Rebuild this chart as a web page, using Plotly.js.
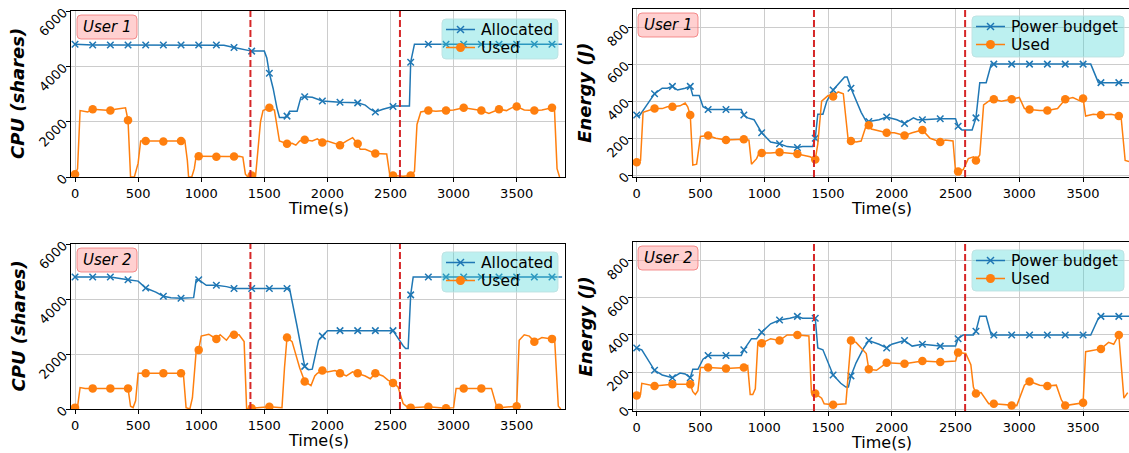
<!DOCTYPE html>
<html>
<head>
<meta charset="utf-8">
<script src="https://cdn.plot.ly/plotly-3.0.1.min.js"></script>
<style>
  html, body { margin: 0; padding: 0; background: #ffffff; }
  #chart { width: 1129px; height: 453px; }
</style>
</head>
<body>
<div id="chart"></div>
<script>
// ---- User 1, CPU shares ----
const cpu1AllocT = [0,140,280,420,560,700,840,980,1120,1180,
  1260,1340,1400,1500,1520,1540,1570,1600,1620,1660,
  1680,1700,1760,1790,1820,1880,1960,2100,2240,2300,
  2340,2380,2440,2520,2540,2650,2660,2690,2800,2940,
  3080,3220,3360,3500,3640,3780,3860];
const cpu1AllocV = [4800,4770,4770,4770,4770,4770,4770,4770,4770,4760,
  4680,4600,4550,4550,4300,3750,3200,2500,2150,2150,
  2200,2380,2380,2880,2900,2880,2750,2700,2680,2600,
  2450,2350,2450,2550,2570,2570,4150,4800,4800,4800,
  4800,4800,4800,4800,4800,4800,4800];
const cpu1UsedT = [0,20,40,100,140,200,280,320,400,420,
  440,470,500,520,560,620,700,780,840,870,
  890,900,925,945,960,980,1050,1120,1200,1260,
  1300,1330,1350,1370,1400,1430,1450,1470,1490,1540,
  1580,1600,1620,1680,1720,1750,1780,1820,1880,1920,
  1960,2000,2060,2100,2150,2200,2240,2260,2300,2380,
  2470,2495,2520,2600,2660,2690,2710,2740,2800,2860,
  2940,3000,3080,3150,3220,3280,3330,3360,3420,3460,
  3500,3560,3640,3700,3780,3800,3820,3840];
const cpu1UsedV = [100,300,2400,2350,2450,2420,2400,2450,2500,2050,
  0,0,500,1300,1300,1280,1280,1300,1300,1320,
  600,0,0,300,750,750,740,730,740,740,
  750,720,100,0,50,0,1000,2000,2400,2500,
  2420,1900,1300,1200,1220,1150,1300,1350,1300,1380,
  1250,1300,1200,1150,1300,1420,1200,1000,1000,850,
  830,50,50,30,50,200,1900,2350,2400,2380,
  2400,2420,2500,2450,2400,2300,2400,2450,2400,2500,
  2550,2420,2400,2420,2500,2400,300,0];

// ---- User 1, energy ----
const en1BudgetT = [0,20,80,140,200,240,280,320,380,420,
  440,490,520,560,700,820,840,870,920,980,
  1050,1120,1180,1260,1300,1380,1400,1420,1460,1490,
  1540,1600,1630,1650,1680,1760,1800,1820,1900,1960,
  2040,2100,2170,2200,2240,2380,2500,2520,2550,2630,
  2660,2690,2740,2780,2800,2940,3080,3220,3360,3500,
  3560,3620,3640,3780,3860];
const en1BudgetV = [325,320,380,440,470,470,480,460,470,480,
  430,430,370,355,355,355,325,310,300,230,
  180,170,155,150,155,155,200,330,330,400,
  460,510,530,530,470,340,290,290,300,315,
  300,280,310,300,300,305,305,265,245,245,
  310,500,500,600,600,600,600,600,600,600,
  600,500,500,500,500];
const en1UsedT = [0,30,50,100,140,200,240,280,340,380,
  400,420,440,470,500,560,620,700,780,840,
  880,900,940,960,980,1050,1120,1200,1260,1360,
  1400,1420,1450,1500,1540,1580,1620,1660,1680,1720,
  1760,1800,1820,1840,1900,1960,2020,2100,2160,2240,
  2300,2380,2420,2480,2500,2520,2560,2600,2640,2660,
  2690,2720,2760,2800,2860,2940,3000,3040,3080,3160,
  3220,3300,3360,3420,3480,3500,3520,3580,3640,3720,
  3780,3800,3830,3860];
const en1UsedV = [70,80,340,350,360,360,370,370,375,390,
  370,325,55,60,210,215,200,190,195,195,
  190,60,90,120,120,120,125,120,115,100,
  85,170,400,430,425,450,440,180,185,180,
  185,270,270,250,240,230,230,215,230,245,
  200,180,190,185,20,20,30,90,100,80,
  110,380,400,410,400,410,420,360,355,350,
  350,360,410,420,400,415,320,330,325,330,
  320,300,80,75];

// ---- User 2, CPU shares ----
const cpu2AllocT = [0,140,280,420,500,560,640,700,760,840,
  940,960,980,1040,1120,1200,1260,1400,1540,1680,
  1700,1760,1820,1850,1880,1930,1960,2000,2100,2240,
  2380,2520,2600,2620,2640,2660,2680,2800,2940,3080,
  3220,3360,3500,3640,3780,3860];
const cpu2AllocV = [4800,4800,4800,4700,4650,4400,4250,4100,4050,4030,
  4050,4700,4700,4500,4500,4450,4380,4380,4380,4380,
  4380,3000,1550,1430,1450,2500,2650,2850,2850,2850,
  2850,2850,2300,2200,2200,4150,4800,4800,4800,4800,
  4800,4800,4800,4800,4800,4800];
const cpu2UsedT = [0,20,40,80,140,280,420,440,460,480,
  500,560,700,840,860,880,910,930,960,980,
  1000,1060,1100,1120,1150,1200,1240,1260,1300,1340,
  1360,1400,1540,1640,1660,1680,1720,1780,1820,1870,
  1900,1920,1960,2000,2060,2100,2150,2200,2240,2300,
  2340,2380,2440,2480,2520,2560,2600,2640,2660,2800,
  2940,3000,3020,3080,3220,3300,3340,3360,3500,3520,
  3560,3600,3640,3700,3780,3800,3830,3850];
const cpu2UsedV = [50,80,780,750,750,750,750,100,50,300,
  1300,1300,1300,1300,1200,50,0,400,2100,2150,
  2650,2720,2600,2550,2700,2500,2750,2700,2700,2450,
  0,30,80,50,1500,2600,2450,1500,1000,850,
  1200,1300,1400,1350,1400,1300,1200,1350,1300,1200,
  1100,1300,1200,1050,950,800,200,50,50,80,
  30,50,750,750,750,750,100,50,100,2500,
  2700,2650,2450,2600,2550,2600,100,0];

// ---- User 2, energy ----
const en2BudgetT = [0,40,140,200,280,340,380,420,440,480,
  520,560,700,820,840,900,940,980,1050,1120,
  1200,1260,1300,1400,1420,1460,1540,1600,1640,1660,
  1680,1720,1780,1820,1900,1960,2000,2100,2160,2240,
  2380,2500,2520,2560,2640,2660,2690,2740,2780,2800,
  2940,3080,3220,3360,3500,3560,3620,3640,3780,3860];
const en2BudgetV = [330,320,210,185,170,195,190,170,215,215,
  270,290,290,290,320,380,380,415,460,480,
  490,500,490,490,330,320,185,140,120,120,
  180,250,330,370,350,330,350,370,340,350,
  340,340,380,400,400,420,500,500,400,400,
  400,400,400,400,400,400,490,500,500,500];
const en2UsedT = [0,30,40,140,280,420,440,460,480,500,
  560,700,840,870,890,910,930,950,980,1050,
  1120,1180,1260,1350,1370,1400,1450,1470,1540,1640,
  1660,1680,1720,1800,1820,1880,1960,2100,2240,2380,
  2500,2520,2580,2620,2640,2660,2700,2760,2800,2940,
  2980,3040,3080,3160,3220,3290,3330,3360,3500,3520,
  3640,3700,3740,3780,3820,3850];
const en2UsedV = [75,80,140,125,135,135,95,80,100,225,
  225,220,225,235,80,80,110,360,355,380,
  370,400,400,395,90,85,60,30,25,30,
  200,370,360,300,215,210,250,245,260,255,
  260,305,300,240,120,85,90,30,30,20,
  20,130,150,130,125,130,50,20,35,310,
  325,360,350,400,60,90];

// Phase boundaries (s), tick positions and labels
const phaseTimes = [1390, 2575];
const timeTicks = [0, 500, 1000, 1500, 2000, 2500, 3000, 3500];
const cpuTicks = [0, 2000, 4000, 6000];
const energyTicks = [0, 200, 400, 600, 800];
const markerStep = 140;

const W = 1129, H = 453;
const FONT = 'DejaVu Sans, Liberation Sans, sans-serif';
const BLUE = '#1f77b4', ORANGE = '#ff7f0e';
const px = v => v / W;
const py = v => 1 - v / H;

// panel geometry in page pixels: [left, right, top, bottom]
const panels = [
  { box: [71, 565, 11, 177], xr: [-32, 3883], yr: [0, 6000], yticks: cpuTicks,
    ytitle: 'CPU (shares)', ytx: 18, user: 'User 1', names: ['Allocated', 'Used'],
    data: [[cpu1AllocT, cpu1AllocV], [cpu1UsedT, cpu1UsedV]],
    leg: [442, 558, 19, 59], tag: [77, 137, 15, 39] },
  { box: [633, 1129, 8.5, 177], xr: [-29, 3860], yr: [-9, 900], yticks: energyTicks,
    ytitle: 'Energy (J)', ytx: 585, user: 'User 1', names: ['Power budget', 'Used'],
    data: [[en1BudgetT, en1BudgetV], [en1UsedT, en1UsedV]],
    leg: [972, 1124, 16, 57], tag: [638, 698, 13, 37] },
  { box: [71, 565, 244, 409], xr: [-32, 3883], yr: [0, 6000], yticks: cpuTicks,
    ytitle: 'CPU (shares)', ytx: 18, user: 'User 2', names: ['Allocated', 'Used'],
    data: [[cpu2AllocT, cpu2AllocV], [cpu2UsedT, cpu2UsedV]],
    leg: [442, 558, 252, 292], tag: [77, 137, 248, 272] },
  { box: [633, 1129, 242, 411], xr: [-29, 3860], yr: [-9, 900], yticks: energyTicks,
    ytitle: 'Energy (J)', ytx: 585, user: 'User 2', names: ['Power budget', 'Used'],
    data: [[en2BudgetT, en2BudgetV], [en2UsedT, en2UsedV]],
    leg: [972, 1124, 250, 291], tag: [638, 698, 246, 270] }
];

const traces = [];
const layout = {
  width: W, height: H,
  margin: { l: 0, r: 0, t: 0, b: 0 },
  paper_bgcolor: '#ffffff', plot_bgcolor: '#ffffff',
  font: { family: FONT, color: '#000000' },
  showlegend: false,
  shapes: [], annotations: []
};

const styles = [
  { line: { color: BLUE, width: 1.5 },
    marker: { symbol: 'x-thin', size: 6.5, color: BLUE, line: { color: BLUE, width: 1.5 } } },
  { line: { color: ORANGE, width: 1.5 },
    marker: { symbol: 'circle', size: 8.5, color: ORANGE, line: { width: 0 } } }
];

// rounded rectangle path in paper coordinates from pixel box
function roundRect(x0, x1, y0, y1, r) {
  const P = (x, y) => px(x) + ',' + py(y);
  return 'M' + P(x0 + r, y0) + ' L' + P(x1 - r, y0) + ' Q' + P(x1, y0) + ' ' + P(x1, y0 + r) +
    ' L' + P(x1, y1 - r) + ' Q' + P(x1, y1) + ' ' + P(x1 - r, y1) +
    ' L' + P(x0 + r, y1) + ' Q' + P(x0, y1) + ' ' + P(x0, y1 - r) +
    ' L' + P(x0, y0 + r) + ' Q' + P(x0, y0) + ' ' + P(x0 + r, y0) + ' Z';
}

panels.forEach((p, i) => {
  const k = i + 1;
  const xa = k === 1 ? 'x' : 'x' + k;
  const ya = k === 1 ? 'y' : 'y' + k;
  const [l, r, t, b] = p.box;

  layout[k === 1 ? 'xaxis' : 'xaxis' + k] = {
    domain: [px(l), px(r)], range: p.xr, anchor: ya,
    tickmode: 'array', tickvals: timeTicks, ticktext: timeTicks.map(String),
    ticks: 'outside', ticklen: 4, tickwidth: 1, tickcolor: '#000',
    showline: true, mirror: true, linecolor: '#000', linewidth: 1,
    showgrid: true, gridcolor: '#cccccc', gridwidth: 1, zeroline: false,
    tickfont: { family: FONT, size: 13, color: '#000' }
  };
  layout[k === 1 ? 'yaxis' : 'yaxis' + k] = {
    domain: [py(b), py(t)], range: p.yr, anchor: xa,
    tickmode: 'array', tickvals: p.yticks, ticktext: p.yticks.map(String),
    tickangle: -45,
    ticks: 'outside', ticklen: 4, tickwidth: 1, tickcolor: '#000',
    showline: true, mirror: true, linecolor: '#000', linewidth: 1,
    showgrid: true, gridcolor: '#cccccc', gridwidth: 1, zeroline: false,
    tickfont: { family: FONT, size: 13, color: '#000' }
  };

  p.data.forEach(([tt, vv], s) => {
    // full series as a line
    traces.push({
      type: 'scatter', mode: 'lines', x: tt, y: vv, xaxis: xa, yaxis: ya,
      line: styles[s].line, hoverinfo: 'skip'
    });
    // markers every 140 s
    const mx = [], my = [];
    tt.forEach((tv, j) => { if (tv % markerStep === 0) { mx.push(tv); my.push(vv[j]); } });
    traces.push({
      type: 'scatter', mode: 'markers', x: mx, y: my, xaxis: xa, yaxis: ya,
      marker: styles[s].marker, hoverinfo: 'skip'
    });
  });

  // phase boundaries
  phaseTimes.forEach(pt => {
    layout.shapes.push({
      type: 'line', xref: xa, yref: ya + ' domain', x0: pt, x1: pt, y0: 0, y1: 1,
      line: { color: '#d62728', width: 2, dash: '7px,3px' }
    });
  });

  // legend box
  const [lx0, lx1, ly0, ly1] = p.leg;
  layout.shapes.push({
    type: 'path', xref: 'paper', yref: 'paper', path: roundRect(lx0, lx1, ly0, ly1, 4),
    fillcolor: 'rgba(64,212,212,0.35)', line: { color: 'rgba(190,225,225,0.9)', width: 1 }
  });
  p.names.forEach((nm, s) => {
    const ry = ly0 + 10.5 + 18 * s;
    const c = s === 0 ? BLUE : ORANGE;
    const sx0 = lx0 + 4, sx1 = lx0 + 33, cx = (sx0 + sx1) / 2;
    layout.shapes.push({
      type: 'line', xref: 'paper', yref: 'paper',
      x0: px(sx0), x1: px(sx1), y0: py(ry), y1: py(ry), line: { color: c, width: 1.5 }
    });
    if (s === 0) {
      [[-3.5, -3.5, 3.5, 3.5], [-3.5, 3.5, 3.5, -3.5]].forEach(([a, bb, cc, d]) => {
        layout.shapes.push({
          type: 'line', xref: 'paper', yref: 'paper',
          x0: px(cx + a), y0: py(ry + bb), x1: px(cx + cc), y1: py(ry + d),
          line: { color: c, width: 1.5 }
        });
      });
    } else {
      layout.shapes.push({
        type: 'circle', xref: 'paper', yref: 'paper',
        x0: px(cx - 4.5), x1: px(cx + 4.5), y0: py(ry + 4.5), y1: py(ry - 4.5),
        fillcolor: c, line: { width: 0 }
      });
    }
    layout.annotations.push({
      xref: 'paper', yref: 'paper', x: px(lx0 + 37), y: py(ry + 0.5),
      xanchor: 'left', yanchor: 'middle', showarrow: false,
      text: nm, font: { family: FONT, size: 15.5, color: '#000' }
    });
  });

  // user tag
  const [ux0, ux1, uy0, uy1] = p.tag;
  layout.shapes.push({
    type: 'path', xref: 'paper', yref: 'paper', path: roundRect(ux0, ux1, uy0, uy1, 4),
    fillcolor: 'rgba(255,150,150,0.45)', line: { color: 'rgba(240,110,110,0.75)', width: 1 }
  });
  layout.annotations.push({
    xref: 'paper', yref: 'paper', x: px((ux0 + ux1) / 2), y: py((uy0 + uy1) / 2),
    xanchor: 'center', yanchor: 'middle', showarrow: false,
    text: '<i>' + p.user + '</i>',
    font: { family: FONT, size: 15, color: '#000' }
  });
  // x title
  layout.annotations.push({
    xref: 'paper', yref: 'paper', x: px((l + r) / 2), y: py(b + 31),
    xanchor: 'center', yanchor: 'middle', showarrow: false,
    text: 'Time(s)', font: { family: FONT, size: 16, color: '#000' }
  });
  // y title
  layout.annotations.push({
    xref: 'paper', yref: 'paper', x: px(p.ytx), y: py((t + b) / 2),
    xanchor: 'center', yanchor: 'middle', showarrow: false, textangle: -90,
    text: '<b><i>' + p.ytitle + '</i></b>', font: { family: FONT, size: 18, color: '#000' }
  });
});

Plotly.newPlot('chart', traces, layout, { displayModeBar: false, staticPlot: true });
</script>
</body>
</html>
